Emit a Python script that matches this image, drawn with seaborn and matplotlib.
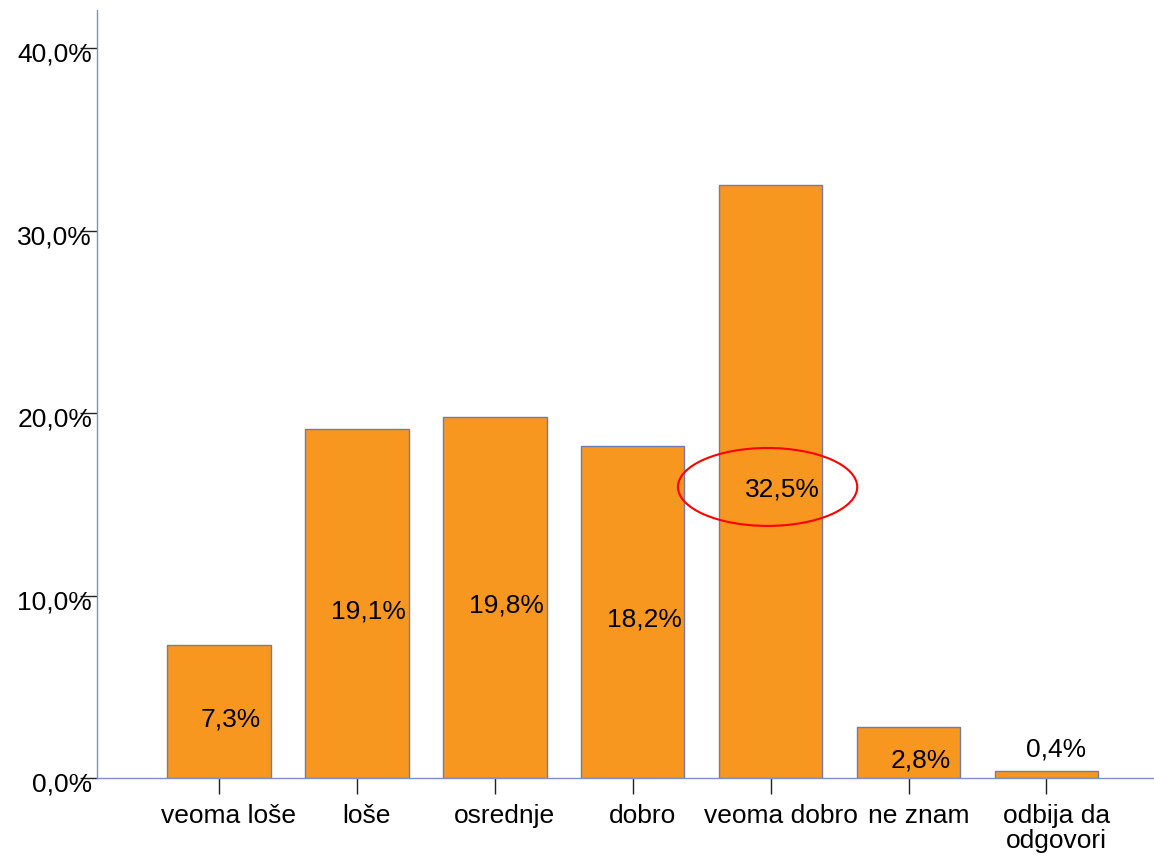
import matplotlib
matplotlib.use("Agg")
import matplotlib.pyplot as plt
import matplotlib.transforms as mtransforms
from matplotlib.patches import Ellipse
from matplotlib.ticker import FuncFormatter
import pandas as pd
import seaborn as sns

categories = ["veoma loše", "loše", "osrednje", "dobro", "veoma dobro", "ne znam",
              "odbija da\nodgovori"]
percents = [7.3, 19.1, 19.8, 18.2, 32.5, 2.8, 0.4]
highlight = "veoma dobro"

sns.set_style("white")
plt.rcParams["font.family"] = ["Liberation Sans", "DejaVu Sans"]
plt.rcParams["text.color"] = "black"
plt.rcParams["xtick.labelcolor"] = "black"
plt.rcParams["ytick.labelcolor"] = "black"

df = pd.DataFrame({"kategorija": categories, "procenat": percents})

fig = plt.figure(figsize=(11.54, 8.6), dpi=100)
ax = fig.add_axes([0.0841, 0.0953, 0.9159, 0.893])

sns.barplot(data=df, x="kategorija", y="procenat", color="#F7971F", saturation=1,
            width=0.75, edgecolor="#6e7bab", linewidth=1, ax=ax)

ax.set_xlim(-0.884, 6.78)
ax.set_ylim(0, 42.08)
ax.set_yticks([0, 10, 20, 30, 40])
ax.yaxis.set_major_formatter(FuncFormatter(lambda v, p: f"{v:.1f}%".replace(".", ",")))
ax.set_xlabel("")
ax.set_ylabel("")

for s in ["top", "right"]:
    ax.spines[s].set_visible(False)
for s in ["left", "bottom"]:
    ax.spines[s].set_color("#7f8fc9")
    ax.spines[s].set_linewidth(1)

ax.tick_params(axis="y", length=12, width=1, color="#222222", pad=-8.5,
               labelsize=19, left=True, labelcolor="black")
ax.tick_params(axis="x", length=11.5, width=1, color="#222222", pad=7,
               labelsize=19, bottom=True, labelcolor="black")
for lab in ax.get_xticklabels():
    lab.set_linespacing(1.05)
    lab.set_transform(lab.get_transform() +
                      mtransforms.ScaledTranslation(10 / 100, 0, fig.dpi_scale_trans))
for lab in ax.get_yticklabels():
    lab.set_transform(lab.get_transform() +
                      mtransforms.ScaledTranslation(0, -4 / 100, fig.dpi_scale_trans))

# value labels, SPSS style: in the middle of the bar, a bit right and down
for i, v in enumerate(percents):
    txt = f"{v:.1f}%".replace(".", ",")
    if v < 1:
        ax.annotate(txt, (i, v), xytext=(7, 15), textcoords="offset points",
                    ha="center", va="center", fontsize=19, color="black")
    else:
        ax.annotate(txt, (i, v / 2), xytext=(8.5, -5.5), textcoords="offset points",
                    ha="center", va="center", fontsize=19, color="black")

# red ring round the highlighted value
hi = categories.index(highlight)
ring = Ellipse((hi - 0.022, percents[hi] / 2 - 0.3), width=1.30, height=4.27,
               fill=False, edgecolor="#ff0000", linewidth=1.5, zorder=5)
ax.add_patch(ring)

fig.savefig("out.png", dpi=100)
